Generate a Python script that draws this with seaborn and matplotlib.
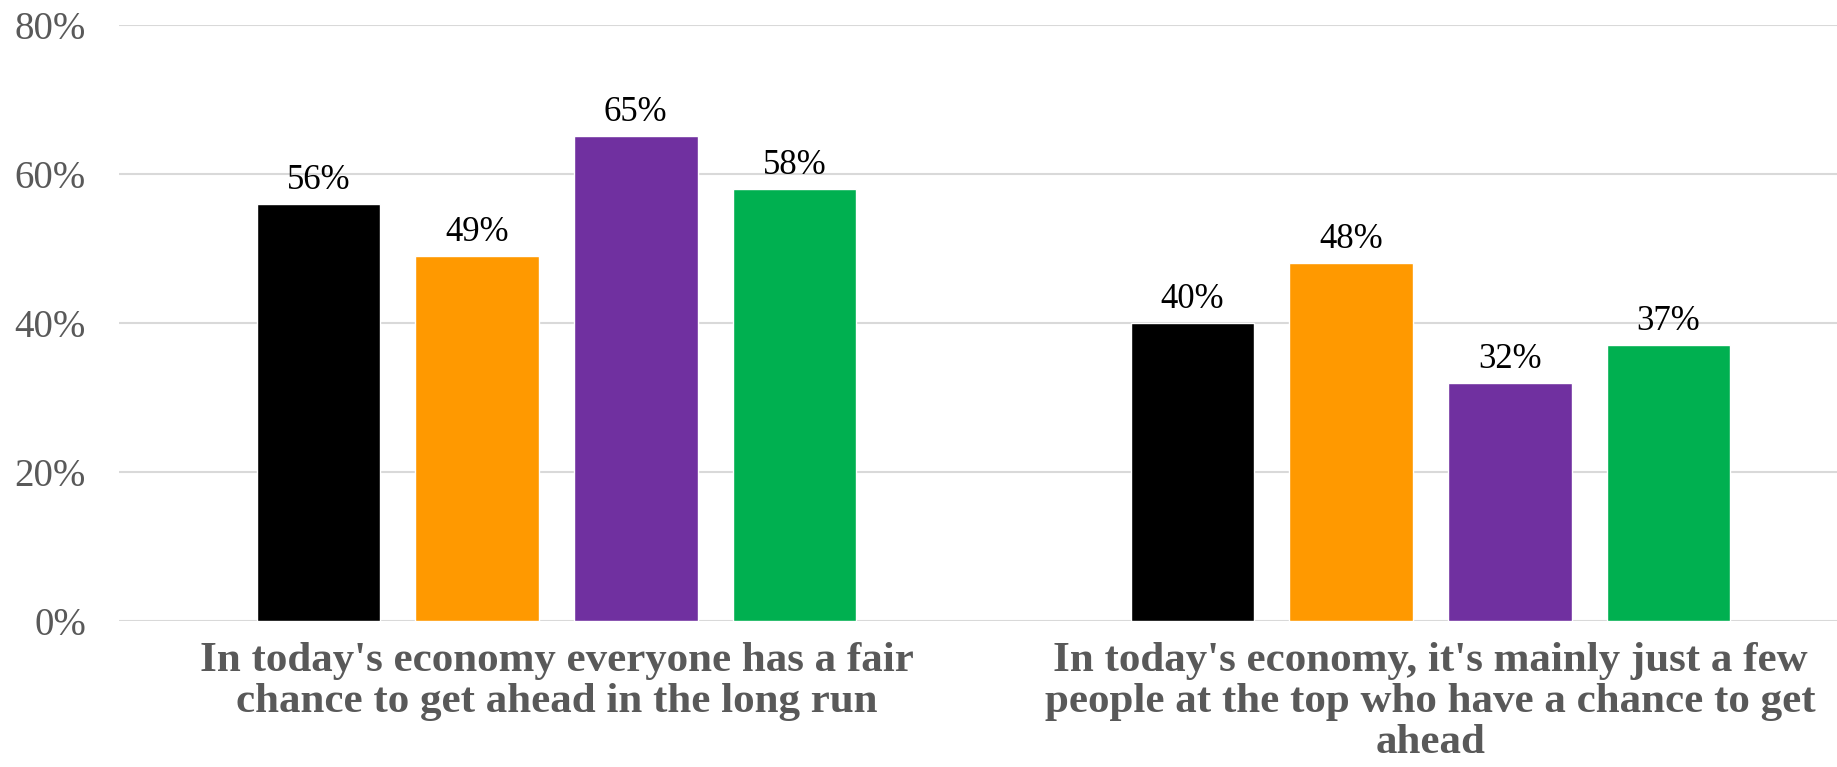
import pandas as pd
import seaborn as sns
from matplotlib import pyplot as plt

# statements shown on the x axis (wrapped as in the original)
statements = [
	"In today's economy everyone has a fair\nchance to get ahead in the long run",
	"In today's economy, it's mainly just a few\npeople at the top who have a chance to get\nahead",
]
groups = ["Group 1", "Group 2", "Group 3", "Group 4"]
values = {
	"Group 1": [0.56, 0.40],
	"Group 2": [0.49, 0.48],
	"Group 3": [0.65, 0.32],
	"Group 4": [0.58, 0.37],
}
palette = ["#000000", "#FF9900", "#7030A0", "#00B050"]
yticks = [0, 0.2, 0.4, 0.6, 0.8]

rows = [
	{"statement": s, "group": g, "share": values[g][i]}
	for g in groups for i, s in enumerate(statements)
]
df = pd.DataFrame(rows)

sns.set_style("white")
plt.rcParams["font.family"] = ["Liberation Serif", "DejaVu Serif"]

fig = plt.figure(figsize=(18.37, 7.67), dpi=100)
ax = fig.add_axes([0.065, 0.19, 0.935, 0.778])

sns.barplot(
	data=df, x="statement", y="share", hue="group", order=statements,
	hue_order=groups, palette=palette, width=0.726, gap=0.22,
	saturation=1, legend=False, ax=ax,
)

for cont in ax.containers:
	ax.bar_label(cont, labels=[f"{v * 100:.0f}%" for v in cont.datavalues],
		padding=5, fontsize=25, color="black")

ax.set_ylim(0, 0.8)
ax.set_xlim(-0.5, 1.465)
ax.set_yticks(yticks)
ax.set_yticklabels([f"{t * 100:.0f}%" for t in yticks], fontsize=28, color="#595959")
ax.tick_params(axis="y", length=0, pad=24)
ax.tick_params(axis="x", length=0, pad=15)
for lbl in ax.get_xticklabels():
	lbl.set_fontsize(31)
	lbl.set_fontweight("bold")
	lbl.set_color("#595959")
	lbl.set_linespacing(1.1)
ax.set_xlabel("")
ax.set_ylabel("")
ax.yaxis.grid(True, color="#D9D9D9", linewidth=1.5)
ax.set_axisbelow(True)
for side in ax.spines:
	ax.spines[side].set_visible(False)

fig.savefig("out.png", dpi=100)
